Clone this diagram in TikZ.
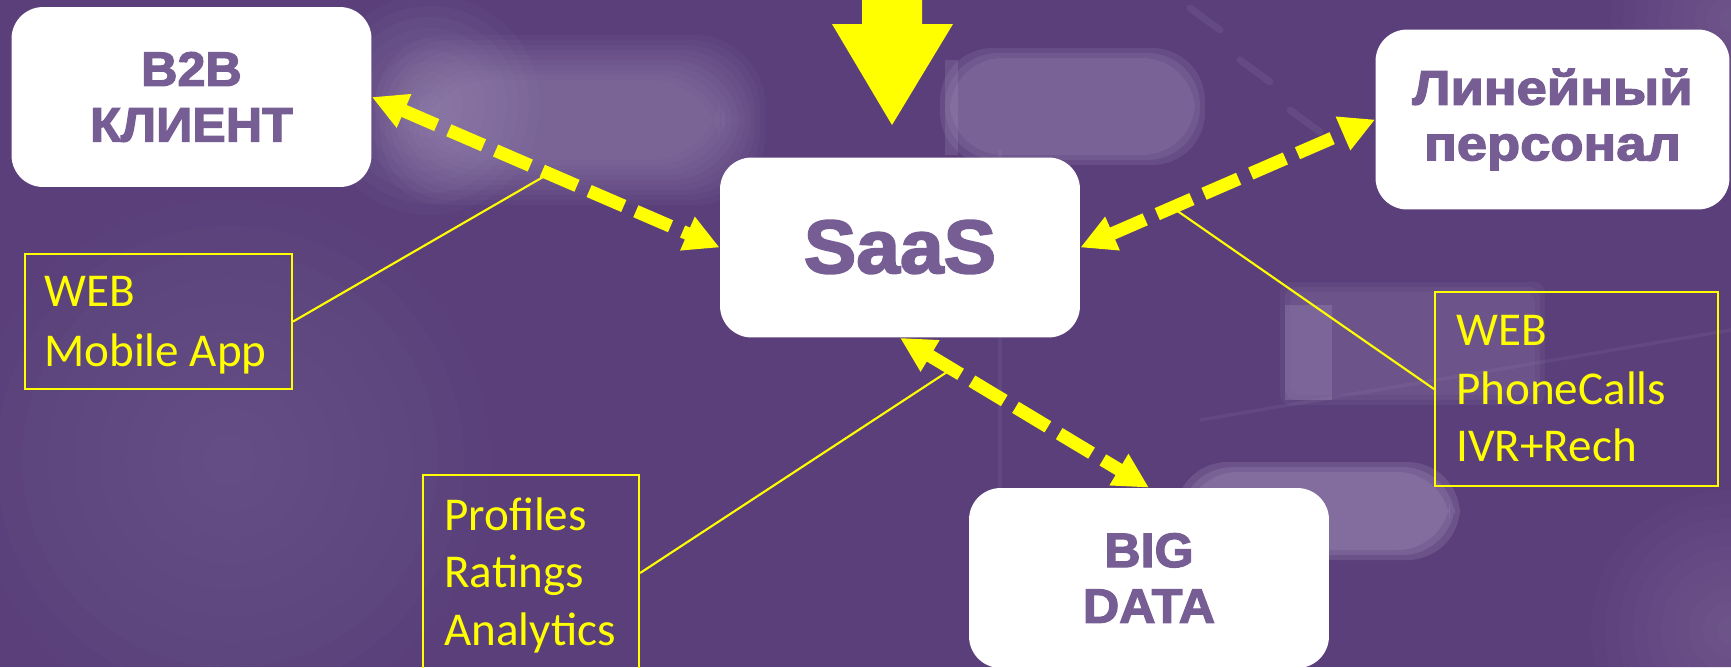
\documentclass[tikz,border=0pt]{standalone}
\usepackage{fontspec}
\usepackage{graphicx}
\usetikzlibrary{arrows.meta}
\setmainfont{Carlito}
\newfontfamily\boxfont{Liberation Sans Bold}[FakeBold=2.6, FakeStretch=1.04]

\definecolor{bg}{RGB}{90,63,122}
\definecolor{bglight}{RGB}{168,152,192}
\definecolor{txt}{RGB}{118,94,148}
\definecolor{ylw}{RGB}{255,255,0}

% soft, blurred-looking rounded bar: x1 y1 x2 y2 radius steps opacity
\newcommand\softbar[7]{%
  \foreach \k in {0,...,#6}{%
    \fill[bglight, opacity=#7, rounded corners=#5]
      (#1-\k*5,#2-\k*5) rectangle (#3+\k*5,#4+\k*5);}}
% soft round glow: x y radius opacity-per-ring
\newcommand\softglow[4]{%
  \foreach \k in {1,...,10}{%
    \fill[bglight, opacity=#4] (#1,#2) circle[radius=#3*\k/10];}}

\tikzset{
  mainbox/.style={fill=white, rounded corners=18pt, inner sep=0pt,
    minimum width=7.2cm, minimum height=3.6cm, align=center, text=txt,
    font=\boxfont\fontsize{27.5}{31.7}\selectfont},
  bigtext/.style={anchor=base, inner sep=0pt, text=txt,
    font=\boxfont\fontsize{43}{48}\selectfont},
  callbox/.style={draw=ylw, line width=1.2pt, anchor=north west, inner sep=0pt},
  calltext/.style={text=ylw, anchor=base west, inner sep=0pt,
    font=\fontsize{26.8}{33}\selectfont},
  calllink/.style={draw=ylw, line width=1.2pt},
  dbl/.style={draw=ylw, line width=7.4pt, dash pattern=on 21.5pt off 7.5pt,
    {Triangle[length=20pt,width=19.5pt]}-{Triangle[length=20pt,width=19.5pt]}}
}

\begin{document}
\begin{tikzpicture}[x=0.02cm, y=-0.02cm]
  \useasboundingbox (0,0) rectangle (1731,667);
  \begin{scope}
    \clip (0,0) rectangle (1731,667);
    % backdrop
    \fill[bg] (0,0) rectangle (1731,667);
    \softglow{230}{460}{260}{0.025}
    \softglow{1731}{630}{140}{0.03}
    \softglow{1731}{20}{120}{0.03}
    \softglow{430}{105}{110}{0.05}
    \softbar{420}{80}{720}{160}{40pt}{9}{0.06}
    \softbar{950}{58}{1195}{155}{30pt}{2}{0.16}
    \fill[bglight, opacity=0.22] (945,60) rectangle (958,155);
    \softbar{1290}{292}{1535}{395}{6pt}{2}{0.09}
    \fill[bglight, opacity=0.28] (1285,305) rectangle (1332,400);
    \softbar{1185}{472}{1450}{550}{30pt}{2}{0.22}
    \foreach \xx/\yy in {1190/8, 1240/60, 1290/110}{
      \draw[bglight, opacity=0.13, line width=4pt, line cap=round]
        (\xx,\yy) -- (\xx+30,\yy+22);}
    \draw[bglight, opacity=0.10, line width=2pt] (1000,150) -- (1000,667);
    \draw[bglight, opacity=0.10, line width=2pt] (1200,420) -- (1731,330);
  \end{scope}

  % main boxes
  \node[mainbox] (b2b) at (191.5,97) {B2B\\КЛИЕНТ};
  \node[mainbox] (saas) at (900,247.5) {};
  \node[bigtext] (saaslabel) at (900,273) {SaaS};
  \node[mainbox, minimum width=7.08cm] (staff) at (1552.5,119.5)
    {\scalebox{1.08}[1]{Линейный}\\\scalebox{1.08}[1]{персонал}};
  \node[mainbox] (bigdata) at (1149,578) {BIG\\DATA};

  % incoming arrow at the top
  \coordinate (intip) at (892,125);
  \fill[ylw] (862,-5) -- (922,-5) -- (922,24) -- (953,24) -- (intip)
    -- (832,24) -- (862,24) -- cycle;

  % two-way dashed links
  \draw[dbl] (b2b.east) -- (saas.west);
  \draw[dbl] (saas.east) -- (staff.west);
  \draw[dbl] (saas.south) -- (bigdata.north);

  % callouts
  \node[callbox, minimum width=5.34cm, minimum height=2.7cm] (cb1) at (24,253) {};
  \node[calltext] (t11) at (44,306) {WEB};
  \node[calltext] (t12) at (44,366) {Mobile App};
  \coordinate (p1) at (543,177);
  \draw[calllink] (cb1.east) -- (p1);

  \node[callbox, minimum width=4.32cm, minimum height=3.92cm] (cb2) at (422,474) {};
  \node[calltext] (t21) at (444,530) {Profiles};
  \node[calltext] (t22) at (444,587) {Ratings};
  \node[calltext] (t23) at (444,645) {Analytics};
  \coordinate (p2) at (947,372);
  \draw[calllink] (cb2.east) -- (p2);

  \node[callbox, minimum width=5.66cm, minimum height=3.88cm] (cb3) at (1434,291) {};
  \node[calltext] (t31) at (1456,345) {WEB};
  \node[calltext] (t32) at (1456,404) {PhoneCalls};
  \node[calltext] (t33) at (1456,461) {IVR+Rech};
  \coordinate (p3) at (1176,210);
  \draw[calllink] (cb3.west) -- (p3);
\end{tikzpicture}
\end{document}
